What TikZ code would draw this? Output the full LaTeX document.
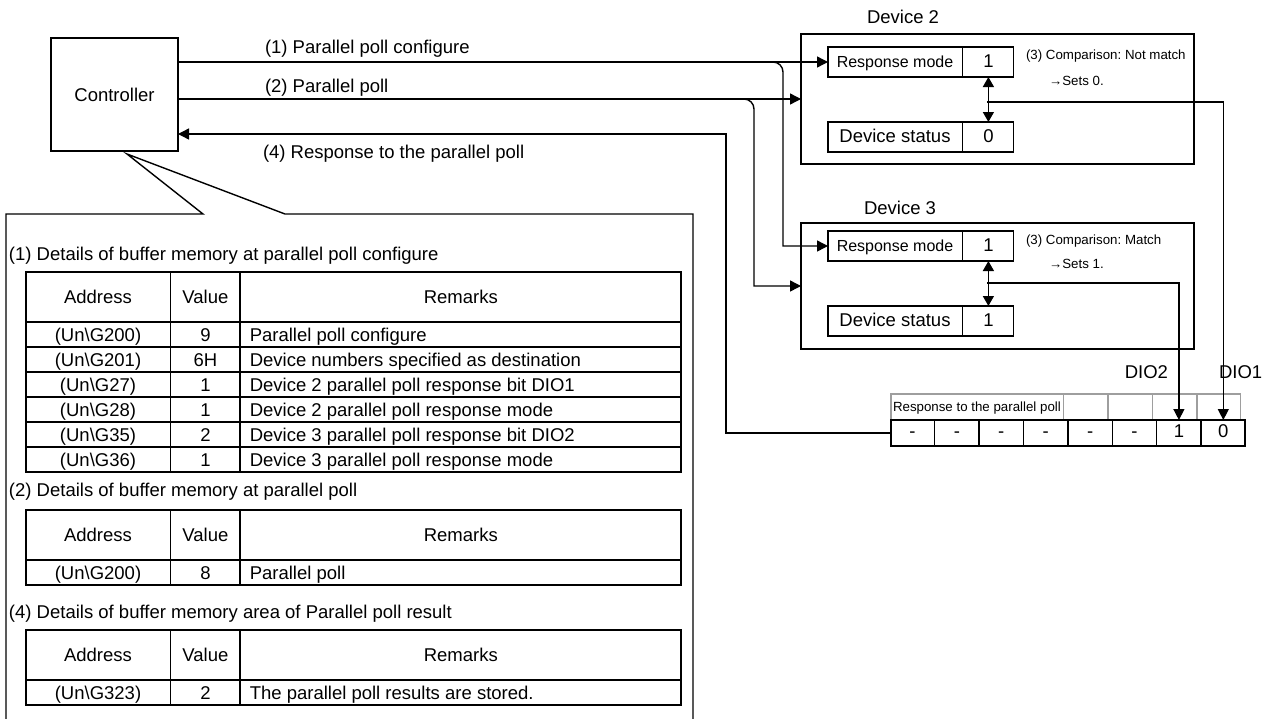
\documentclass[tikz,border=0pt]{standalone}
\usepackage{fontspec}
\setmainfont{Liberation Sans}
\usepackage{tikz}
\usetikzlibrary{shapes.multipart,positioning}
\usetikzlibrary{arrows.meta}
\definecolor{hd}{rgb}{0.62,0.62,0.62}
\frenchspacing
\newcommand{\rowstrut}{\rule[-2.95pt]{0pt}{12.5pt}}
\newcommand{\headstrut}{\rule[-9.2pt]{0pt}{25pt}}
\newcommand{\fieldstrut}{\rule[-4.6pt]{0pt}{15pt}}
\newcommand{\bytestrut}{\rule[-4.1pt]{0pt}{13pt}}
\newcommand{\addrcell}[1]{\makebox[72pt]{#1}}
\newcommand{\valcell}[1]{\makebox[34pt]{#1}}
\newcommand{\remcell}[1]{\makebox[220pt][l]{\hspace{4.5pt}#1}}
\newcommand{\emptycell}{\makebox[21.5pt]{\bytestrut}}

\begin{document}
\begin{tikzpicture}[x=0.5pt,y=-0.5pt,line width=0.7pt,
  every node/.append style={inner sep=0pt,outer sep=0pt,font=\fontsize{9.25}{11}\selectfont},
  small/.style={font=\fontsize{6.65}{8}\selectfont},
  box/.style={draw,rectangle},
  field/.style={draw,rectangle split,rectangle split horizontal,rectangle split parts=2},
  tabrow/.style={draw,rectangle split,rectangle split horizontal,rectangle split parts=3},
  arr/.style={-{Triangle[length=5.5pt,width=5.5pt]}},
  dblarr/.style={{Triangle[length=5pt,width=5.5pt]}-{Triangle[length=5pt,width=5.5pt]}}
  ]
  \useasboundingbox (0,0) rectangle (1269,718);

  \node (ctrl) [box, minimum width=63.5pt, minimum height=56.5pt] at (114.5,94.5) {Controller};

  % devices
  \node (d2) [box, minimum width=196.5pt, minimum height=65pt] at (997.5,99) {};
  \node (d3) [box, minimum width=196.5pt, minimum height=63pt] at (997.5,286) {};
  \node (d2lbl) at (903,17) {Device 2};
  \node (d3lbl) at (900,208) {Device 3};

  \node (d2rm) [field, anchor=west] at (828,62)
        {\nodepart{one}\makebox[67pt]{\fieldstrut\fontsize{8}{9}\selectfont Response mode}
         \nodepart{two}\makebox[25pt]{\fieldstrut 1}};
  \node (d2ds) [field, anchor=west] at (828,137)
        {\nodepart{one}\makebox[67pt]{\fieldstrut Device status}
         \nodepart{two}\makebox[25pt]{\fieldstrut 0}};
  \node (d3rm) [field, anchor=west] at (828,246)
        {\nodepart{one}\makebox[67pt]{\fieldstrut\fontsize{8}{9}\selectfont Response mode}
         \nodepart{two}\makebox[25pt]{\fieldstrut 1}};
  \node (d3ds) [field, anchor=west] at (828,321)
        {\nodepart{one}\makebox[67pt]{\fieldstrut Device status}
         \nodepart{two}\makebox[25pt]{\fieldstrut 1}};

  \node (cmp2) [small, anchor=west] at (1026,56) {(3) Comparison: Not match};
  \node (set2) [small, anchor=west] at (1049,81) {→Sets 0.};
  \node (cmp3) [small, anchor=west] at (1026,241) {(3) Comparison: Match};
  \node (set3) [small, anchor=west] at (1049,264) {→Sets 1.};

  % response byte
  \node (rhead) [draw=hd, small, rectangle split, rectangle split horizontal,
                 rectangle split parts=5, anchor=north west] at (891,394)
        {\nodepart{one}\makebox[86pt][l]{\bytestrut\hspace{1pt}Response to the parallel poll}
         \nodepart{two}\emptycell
         \nodepart{three}\emptycell
         \nodepart{four}\emptycell
         \nodepart{five}\emptycell};
  \node (rval) [draw, rectangle split, rectangle split horizontal,
                rectangle split parts=8,
                below right=0pt and 0pt of rhead.south west]
        {\nodepart{one}\makebox[21.5pt]{\bytestrut-}\nodepart{two}\makebox[21.5pt]{\bytestrut-}
         \nodepart{three}\makebox[21.5pt]{\bytestrut-}\nodepart{four}\makebox[21.5pt]{\bytestrut-}
         \nodepart{five}\makebox[21.5pt]{\bytestrut-}\nodepart{six}\makebox[21.5pt]{\bytestrut-}
         \nodepart{seven}\makebox[21.5pt]{\bytestrut 1}\nodepart{eight}\makebox[21.5pt]{\bytestrut 0}};
  \node (dio2) [anchor=east] at (1168,372) {DIO2};
  \node (dio1) [anchor=west] at (1219,372) {DIO1};

  % connectors
  \coordinate (cfgturn) at (783,62);
  \coordinate (pollturn) at (754,100);
  \coordinate (rtn) at (726,134);
  \coordinate (d2tap) at (987,102);
  \coordinate (d3tap) at (987,283);

  \draw[arr] (ctrl.east |- d2rm.west) -- (d2rm.west);
  \draw[arr] (ctrl.east |- d2.west) -- (d2.west);
  \draw[arr] (ctrl.east |- d2rm.west) [rounded corners=5pt] -- (cfgturn)
             [sharp corners] -- (cfgturn |- d3rm.west) -- (d3rm.west);
  \draw[arr] (ctrl.east |- d2.west) [rounded corners=5pt] -- (pollturn |- d2.west)
             [sharp corners] -- (pollturn |- d3.west) -- (d3.west);
  \draw[arr] (rval.west) -| (rtn) -- (ctrl.east |- rtn);
  \draw[dblarr] (d2rm.two south) -- (d2ds.two north);
  \draw[dblarr] (d3rm.two south) -- (d3ds.two north);
  \draw[arr] (d2tap) -| (rval.eight north);
  \draw[arr] (d3tap) -| (rval.seven north);

  \node (lbl1) [anchor=west] at (265,49) {(1) Parallel poll configure};
  \node (lbl2) [anchor=west] at (265,88) {(2) Parallel poll};
  \node (lbl4) [anchor=west] at (263,154) {(4) Response to the parallel poll};

  % buffer memory panel
  \coordinate (tip) at (127,154);
  \draw (6,722) -- (6,214) -- (203,214) -- (tip) -- (285,214) -- (693,214) -- (693,722);

  \node (t1title) [anchor=west] at (9,256) {(1) Details of buffer memory at parallel poll configure};
  \node (t1head) [tabrow, anchor=north west] at (26,272)
        {\nodepart{one}\addrcell{\headstrut Address}\nodepart{two}\valcell{\headstrut Value}
         \nodepart{three}\makebox[220pt]{\headstrut Remarks}};
  \node (t1r1) [tabrow, below=0pt of t1head]
        {\nodepart{one}\addrcell{\rowstrut(Un\textbackslash G200)}\nodepart{two}\valcell{\rowstrut 9}
         \nodepart{three}\remcell{\rowstrut Parallel poll configure}};
  \node (t1r2) [tabrow, below=0pt of t1r1]
        {\nodepart{one}\addrcell{\rowstrut(Un\textbackslash G201)}\nodepart{two}\valcell{\rowstrut 6H}
         \nodepart{three}\remcell{\rowstrut Device numbers specified as destination}};
  \node (t1r3) [tabrow, below=0pt of t1r2]
        {\nodepart{one}\addrcell{\rowstrut(Un\textbackslash G27)}\nodepart{two}\valcell{\rowstrut 1}
         \nodepart{three}\remcell{\rowstrut Device 2 parallel poll response bit DIO1}};
  \node (t1r4) [tabrow, below=0pt of t1r3]
        {\nodepart{one}\addrcell{\rowstrut(Un\textbackslash G28)}\nodepart{two}\valcell{\rowstrut 1}
         \nodepart{three}\remcell{\rowstrut Device 2 parallel poll response mode}};
  \node (t1r5) [tabrow, below=0pt of t1r4]
        {\nodepart{one}\addrcell{\rowstrut(Un\textbackslash G35)}\nodepart{two}\valcell{\rowstrut 2}
         \nodepart{three}\remcell{\rowstrut Device 3 parallel poll response bit DIO2}};
  \node (t1r6) [tabrow, below=0pt of t1r5]
        {\nodepart{one}\addrcell{\rowstrut(Un\textbackslash G36)}\nodepart{two}\valcell{\rowstrut 1}
         \nodepart{three}\remcell{\rowstrut Device 3 parallel poll response mode}};

  \node (t2title) [anchor=west] at (9,492) {(2) Details of buffer memory at parallel poll};
  \node (t2head) [tabrow, anchor=north west] at (26,510)
        {\nodepart{one}\addrcell{\headstrut Address}\nodepart{two}\valcell{\headstrut Value}
         \nodepart{three}\makebox[220pt]{\headstrut Remarks}};
  \node (t2r1) [tabrow, below=0pt of t2head]
        {\nodepart{one}\addrcell{\rowstrut(Un\textbackslash G200)}\nodepart{two}\valcell{\rowstrut 8}
         \nodepart{three}\remcell{\rowstrut Parallel poll}};

  \node (t4title) [anchor=west] at (9,614) {(4) Details of buffer memory area of Parallel poll result};
  \node (t4head) [tabrow, anchor=north west] at (26,630)
        {\nodepart{one}\addrcell{\headstrut Address}\nodepart{two}\valcell{\headstrut Value}
         \nodepart{three}\makebox[220pt]{\headstrut Remarks}};
  \node (t4r1) [tabrow, below=0pt of t4head]
        {\nodepart{one}\addrcell{\rowstrut(Un\textbackslash G323)}\nodepart{two}\valcell{\rowstrut 2}
         \nodepart{three}\remcell{\rowstrut The parallel poll results are stored.}};
\end{tikzpicture}
\end{document}
